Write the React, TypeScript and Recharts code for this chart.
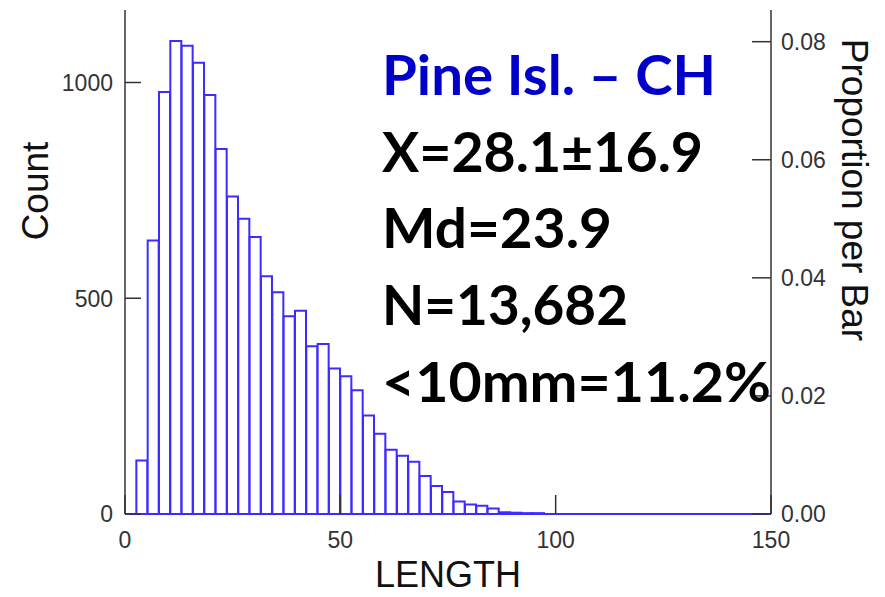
import { BarChart, Bar, XAxis, YAxis } from "recharts";

// histogram bins (mid-points, mm) and counts
const LENGTH_MID = [
  3.95, 6.58, 9.21, 11.84, 14.47, 17.11, 19.74, 22.37, 25.0, 27.63, 30.26,
  32.89, 35.53, 38.16, 40.79, 43.42, 46.05, 48.68, 51.32, 53.95, 56.58, 59.21,
  61.84, 64.47, 67.11, 69.74, 72.37, 75.0, 77.63, 80.26, 82.89, 85.53, 88.16,
  90.79, 93.42, 96.05,
];
const COUNTS = [
  124, 634, 978, 1096, 1085, 1046, 971, 846, 736, 684, 642, 551, 514, 458,
  471, 389, 394, 337, 319, 287, 228, 186, 149, 135, 121, 88, 65, 51, 29, 22,
  19, 13, 4, 3, 2, 2,
];
const N_TOTAL = 13682;
const COUNT_MAX = 1168;

const X_TICKS = [0, 50, 100, 150];
const COUNT_TICKS = [0, 500, 1000];
const PROP_TICKS = [0, 0.02, 0.04, 0.06, 0.08];

const TITLE = "Pine Isl. – CH";
const STATS = ["X=28.1±16.9", "Md=23.9", "N=13,682", "<10mm=11.2%"];
const STAT_WIDTHS = [321, 230, 246, 389];

const BLUE = "#3d2bff";
const AXIS = "#333";
const TICK_FONT = "'Liberation Sans', Arial, sans-serif";

const data = LENGTH_MID.map((len, i) => ({ len, count: COUNTS[i] }));

function LeftTick(props: any) {
  const { x, y, payload } = props;
  return (
    <g>
      <line x1={x} x2={x + 16} y1={y} y2={y} stroke={AXIS} strokeWidth={1.5} />
      <text x={x - 12} y={y} dy="0.36em" textAnchor="end" fontSize={23} fontFamily={TICK_FONT} fill={AXIS}>
        {payload.value}
      </text>
    </g>
  );
}

function RightTick(props: any) {
  const { x, y, payload } = props;
  return (
    <g>
      <line x1={x - 19} x2={x} y1={y} y2={y} stroke={AXIS} strokeWidth={1.5} />
      <text x={x + 10} y={y} dy="0.36em" textAnchor="start" fontSize={23} fontFamily={TICK_FONT} fill={AXIS}>
        {payload.value.toFixed(2)}
      </text>
    </g>
  );
}

function BottomTick(props: any) {
  const { x, y, payload } = props;
  return (
    <g>
      <line x1={x} x2={x} y1={y - 19} y2={y} stroke={AXIS} strokeWidth={1.5} />
      <text x={x} y={y + 26} dy="0.36em" textAnchor="middle" fontSize={23} fontFamily={TICK_FONT} fill={AXIS}>
        {payload.value}
      </text>
    </g>
  );
}

export default function App() {
  return (
    <div style={{ position: "relative", width: 885, height: 597, background: "#fff" }}>
      <style>{`body{margin:0}`}</style>
      <BarChart
        width={885}
        height={597}
        data={data}
        margin={{ top: 10, right: 0, bottom: 0, left: 0 }}
        barCategoryGap={0}
        barGap={0}
      >
        <XAxis
          dataKey="len"
          type="number"
          domain={[0, 150]}
          ticks={X_TICKS}
          interval={0}
          height={83}
          allowDataOverflow
          axisLine={{ stroke: BLUE, strokeWidth: 2 }}
          tickLine={false}
          tickSize={0}
          tickMargin={0}
          tick={(p: any) => <BottomTick {...p} />}
        />
        <YAxis
          yAxisId="left"
          orientation="left"
          width={125}
          type="number"
          domain={[0, COUNT_MAX]}
          ticks={COUNT_TICKS}
          interval={0}
          allowDataOverflow
          axisLine={{ stroke: AXIS, strokeWidth: 1.5 }}
          tickLine={false}
          tickSize={0}
          tickMargin={0}
          tick={(p: any) => <LeftTick {...p} />}
        />
        <YAxis
          yAxisId="right"
          orientation="right"
          width={114}
          type="number"
          domain={[0, COUNT_MAX / N_TOTAL]}
          ticks={PROP_TICKS}
          interval={0}
          allowDataOverflow
          axisLine={{ stroke: AXIS, strokeWidth: 1.5 }}
          tickLine={false}
          tickSize={0}
          tickMargin={0}
          tick={(p: any) => <RightTick {...p} />}
        />
        <Bar
          yAxisId="left"
          dataKey="count"
          fill="#fff"
          stroke={BLUE}
          strokeWidth={2}
          isAnimationActive={false}
        />
      </BarChart>

      {/* titles and annotation text */}
      <svg
        width={885}
        height={597}
        style={{ position: "absolute", left: 0, top: 0, pointerEvents: "none" }}
      >
        <text x={448} y={587} textAnchor="middle" fontSize={36} fontFamily={TICK_FONT} fill="#111">
          LENGTH
        </text>
        <text transform="translate(48,191) rotate(-90)" textAnchor="middle" fontSize={37} fontFamily={TICK_FONT} fill="#111">
          Count
        </text>
        <text transform="translate(842,190) rotate(90)" textAnchor="middle" fontSize={37} fontFamily={TICK_FONT} fill="#111">
          Proportion per Bar
        </text>
        <text
          x={382}
          y={95}
          fontSize={55}
          fontWeight={700}
          fontFamily="Lato, 'Open Sans', sans-serif"
          fill="#0000c8"
          textLength={334}
          lengthAdjust="spacingAndGlyphs"
        >
          {TITLE}
        </text>
        {STATS.map((s, i) => (
          <text
            key={s}
            x={382}
            y={171.7 + i * 76.7}
            fontSize={55}
            fontWeight={700}
            fontFamily="Lato, 'Open Sans', sans-serif"
            fill="#000"
            textLength={STAT_WIDTHS[i]}
            lengthAdjust="spacingAndGlyphs"
          >
            {s}
          </text>
        ))}
      </svg>
    </div>
  );
}
